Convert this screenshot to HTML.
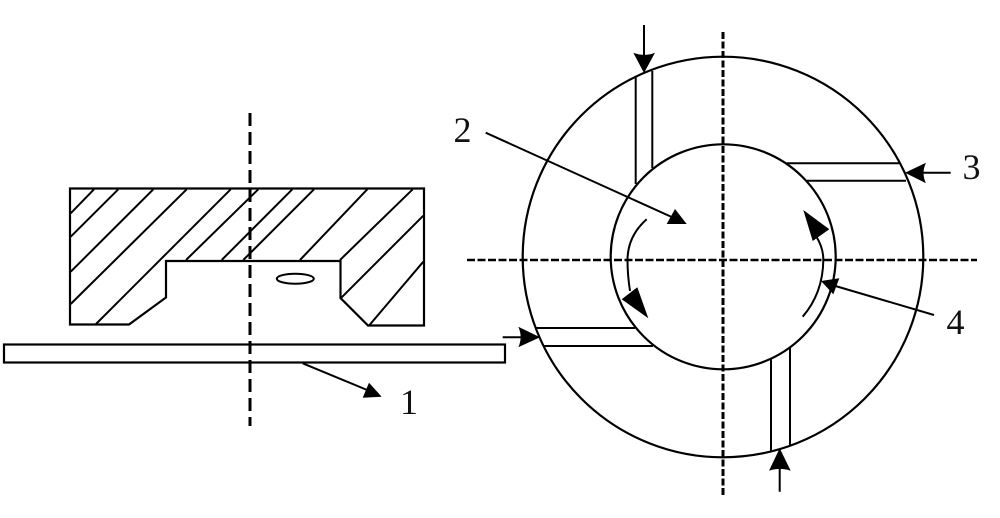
<!DOCTYPE html>
<html>
<head>
<meta charset="utf-8">
<style>
html,body{margin:0;padding:0;background:#fff;}
svg{display:block;}
text{font-family:"Liberation Serif",serif;font-size:36px;fill:#111;text-anchor:middle;}
</style>
</head>
<body>
<svg width="1000" height="518" viewBox="0 0 1000 518" xmlns="http://www.w3.org/2000/svg">
<g fill="none" stroke="#000" stroke-width="2">
  <path d="M70 188.5H424V325.5H368L340.5 298V261H166V297.5L129 324.5H70Z" stroke-width="2.2"/>
  <path d="M70.7 213.3L94 189.3M70.7 236.7L118.3 189.3M70.7 271.7L153.3 189.3M70.7 304L186.7 189.3M96 324L230.7 189.3M186 260L258.3 189.3M221.7 260L292.3 189.3M243.3 260L314 189.3M300 260L367.3 189.3M340 260L412.7 189.3M340.7 298.3L423.3 215.7M368.7 326L423.3 261.7"/>
  <ellipse cx="295.3" cy="278.7" rx="18.5" ry="5"/>
  <rect x="4" y="344.5" width="501" height="18" stroke-width="2.2"/>
  <path d="M250 113V426" stroke-width="3" stroke-dasharray="13 6"/>
  <path d="M467 260H977" stroke-width="2.5" stroke-dasharray="8 2.5"/>
  <path d="M723 32V497" stroke-width="3" stroke-dasharray="7 2.5"/>
  <circle cx="723" cy="257" r="200.3" stroke-width="2.2"/>
  <circle cx="723.2" cy="256.8" r="112.5" stroke-width="2.2"/>
  <path d="M635.7 77.3V184M652.3 71V168M786.7 163.3H900M807 180.7H906M536 328H635M544 346H653M771 359V450.7M790 348V445"/>
  <path d="M644 25V60M950.7 172.7H920M502.7 337.3H525M779.7 491.7V465"/>
  <path d="M302.7 363.3L372 392M485.7 132.7L675 218.5M934 315L832 285"/>
  <path d="M646.7 219.3Q627.7 236 627.5 260Q627.5 275 630 291"/>
  <path d="M816 236Q823.5 248 823.3 260Q823 293 802.7 316.7"/>
</g>
<g fill="#000" stroke="none">
  <path d="M644 73L633.3 52.7Q644 57 655 52.7Z"/>
  <path d="M905 172.7L926 162.7Q921 173 926 183.3Z"/>
  <path d="M540 337.3L518.3 326.7Q523 337 518.3 347.3Z"/>
  <path d="M779.7 448.3L769 470.7Q780 467 790.7 470.7Z"/>
  <path d="M381.7 396.7L369 382.7L362.7 397.7Z"/>
  <path d="M686.7 224L675 209L666.7 224Z"/>
  <path d="M821 281L839.3 278.3L833.3 294.3Z"/>
  <path d="M637.3 287.3L621.7 299.3L648.3 318.3Z"/>
  <path d="M803.3 210L829.3 229.3L812.7 241Z"/>
</g>
<text x="409" y="414">1</text>
<text x="462.5" y="142">2</text>
<text x="971.5" y="179">3</text>
<text x="955.5" y="334">4</text>
</svg>
</body>
</html>
